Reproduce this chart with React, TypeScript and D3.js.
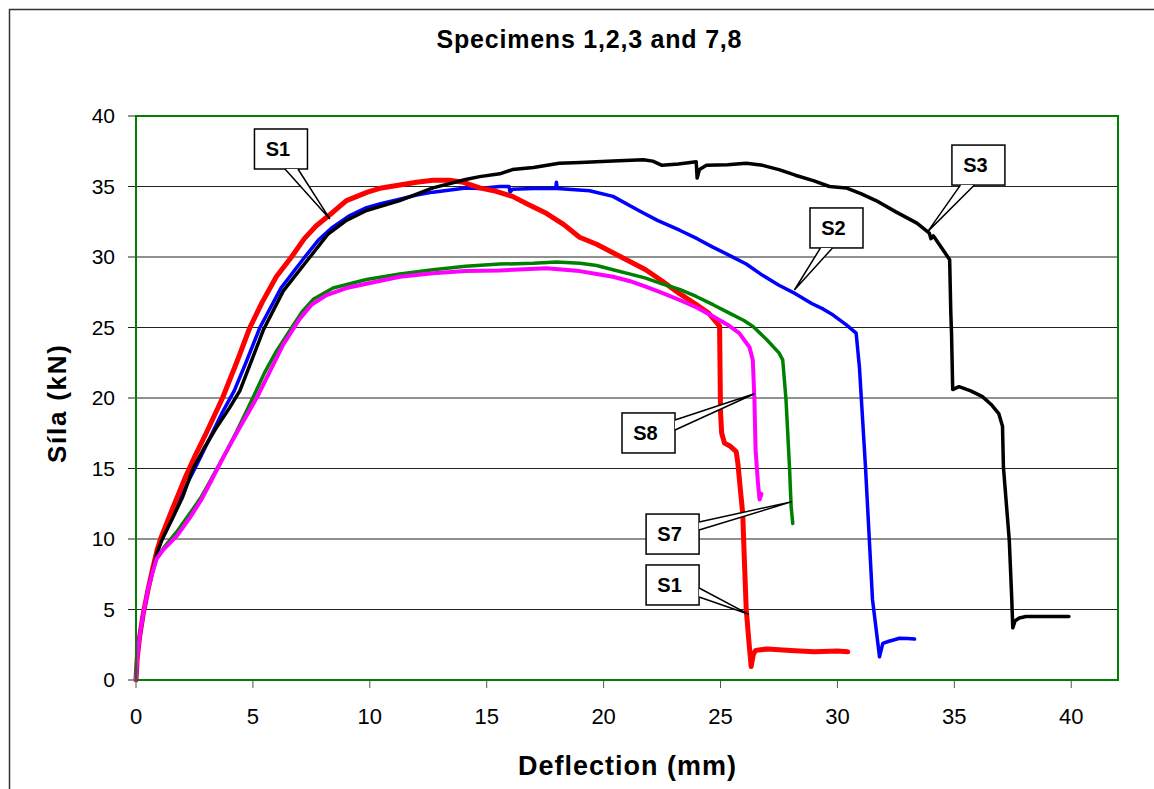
import * as d3 from 'd3'

type Pt = [number, number]

const TITLE = 'Specimens 1,2,3 and 7,8'
const X_LABEL = 'Deflection (mm)'
const Y_LABEL = 'Síla (kN)'
const X_TICKS = [0, 5, 10, 15, 20, 25, 30, 35, 40]
const Y_TICKS = [0, 5, 10, 15, 20, 25, 30, 35, 40]

// deflection (mm), force (kN)
const s1: Pt[] = [[0, 0], [0.05, 1.5], [0.15, 3], [0.3, 4.6], [0.5, 6.3], [0.7, 7.8], [0.9, 9.2], [1.05, 10], [1.5, 11.9], [2.09, 14.3], [2.5, 15.8], [3, 17.5], [3.7, 20], [4.3, 22.5], [4.87, 25], [5.4, 26.8], [6, 28.6], [6.65, 30], [7.2, 31.3], [7.7, 32.2], [8.29, 33.0], [9.0, 34], [9.9, 34.6], [10.5, 34.9], [11.28, 35.1], [12, 35.3], [12.7, 35.45], [13.4, 35.45], [14, 35.3], [14.7, 34.9], [15.3, 34.7], [16.1, 34.3], [16.8, 33.7], [17.55, 33.1], [18.3, 32.3], [18.97, 31.4], [19.7, 30.9], [20.4, 30.3], [21.1, 29.7], [21.8, 29.1], [22.5, 28.3], [23.25, 27.4], [23.9, 26.7], [24.5, 26.0], [24.96, 25.1], [24.98, 22], [25.0, 19], [25.05, 17.5], [25.17, 16.8], [25.4, 16.6], [25.67, 16.2], [25.74, 15.4], [25.85, 13.5], [25.95, 11.8], [26.02, 8.5], [26.1, 5.0], [26.2, 3], [26.31, 0.95], [26.4, 1.8], [26.5, 2.1], [27, 2.2], [28, 2.1], [29, 2.0], [30, 2.05], [30.44, 2.0]]

const s2: Pt[] = [[0, 0], [0.05, 1.5], [0.15, 3], [0.3, 4.6], [0.5, 6.3], [0.7, 7.8], [0.9, 9.1], [1.1, 10], [1.6, 11.8], [2.3, 14.3], [2.7, 15.6], [3.2, 17.3], [3.7, 19], [4.2, 20.5], [4.7, 22.5], [5.3, 25], [6.2, 27.8], [7.22, 30], [7.8, 31.2], [8.4, 32.1], [9.1, 32.9], [9.86, 33.5], [10.5, 33.8], [11.28, 34.1], [12, 34.4], [12.7, 34.6], [14.1, 34.9], [14.7, 34.85], [15.56, 35.0], [15.95, 35.0], [16.0, 34.6], [16.1, 34.8], [17.0, 34.85], [17.95, 34.85], [17.98, 35.3], [18.02, 34.85], [19.4, 34.7], [20.4, 34.3], [21.5, 33.3], [22.3, 32.6], [23.25, 31.9], [24.0, 31.3], [24.67, 30.7], [25.4, 30.1], [26.1, 29.5], [26.8, 28.7], [27.5, 28.0], [28.2, 27.4], [28.9, 26.7], [29.4, 26.3], [29.8, 25.9], [30.37, 25.2], [30.8, 24.6], [30.94, 22.2], [31.2, 15.1], [31.5, 5.7], [31.8, 1.65], [31.94, 2.6], [32.2, 2.75], [32.4, 2.84], [32.65, 2.96], [33.0, 2.95], [33.3, 2.9]]

const s3: Pt[] = [[0, 0], [0.05, 1.5], [0.15, 3], [0.3, 4.6], [0.5, 6.3], [0.7, 7.7], [0.9, 9.0], [1.1, 9.9], [1.6, 11.6], [2.0, 13.0], [2.44, 15], [2.9, 16.4], [3.4, 17.8], [4.0, 19.3], [4.44, 20.5], [5.0, 22.9], [5.44, 24.8], [6.3, 27.6], [7.44, 30], [8.2, 31.6], [9.0, 32.6], [9.86, 33.3], [11.28, 34.0], [12.7, 34.9], [14.1, 35.5], [14.7, 35.7], [15.56, 35.9], [16.1, 36.2], [17.0, 36.35], [18.1, 36.65], [19.0, 36.7], [20.4, 36.8], [21.7, 36.9], [22.1, 36.8], [22.5, 36.5], [23.2, 36.6], [23.96, 36.75], [24.0, 35.6], [24.1, 36.2], [24.4, 36.5], [25.3, 36.55], [26.1, 36.65], [26.8, 36.5], [27.5, 36.2], [28.2, 35.8], [29.0, 35.4], [29.66, 35.0], [30.37, 34.9], [31.0, 34.5], [31.65, 34.0], [32.5, 33.2], [33.4, 32.4], [33.93, 31.7], [34.0, 31.3], [34.1, 31.5], [34.6, 30.3], [34.8, 29.8], [34.85, 26], [34.88, 24.6], [34.93, 20.6], [35.2, 20.8], [35.7, 20.5], [36.2, 20.1], [36.6, 19.5], [36.9, 18.9], [37.06, 18.0], [37.1, 15.1], [37.35, 9.9], [37.45, 6], [37.5, 3.7], [37.6, 4.2], [37.78, 4.4], [38.06, 4.5], [39.0, 4.5], [39.9, 4.5]]

const s7: Pt[] = [[0, 0], [0.05, 1.5], [0.15, 3], [0.3, 4.6], [0.5, 6.3], [0.7, 7.6], [0.88, 8.6], [1.2, 9.4], [1.74, 10.5], [2.3, 11.8], [2.8, 13], [3.3, 14.5], [3.8, 16], [4.3, 17.6], [4.94, 19.8], [5.5, 21.8], [6.0, 23.3], [6.58, 24.8], [7.1, 26.1], [7.58, 27.0], [8.43, 27.8], [9.86, 28.4], [11.28, 28.8], [12.7, 29.1], [14.1, 29.35], [15.56, 29.5], [17.0, 29.55], [17.98, 29.65], [19.0, 29.55], [19.7, 29.4], [20.4, 29.1], [21.1, 28.8], [21.8, 28.5], [22.5, 28.1], [23.25, 27.7], [23.96, 27.2], [24.7, 26.6], [25.4, 26.0], [26.0, 25.5], [26.4, 25.06], [27.0, 24.1], [27.5, 23.2], [27.66, 22.7], [27.8, 19.9], [27.95, 15.1], [28.02, 12.3], [28.09, 11.1]]

const s8: Pt[] = [[0, 0], [0.05, 1.5], [0.15, 3], [0.3, 4.6], [0.5, 6.3], [0.7, 7.6], [0.88, 8.6], [1.2, 9.3], [1.74, 10.2], [2.3, 11.5], [2.8, 12.8], [3.3, 14.4], [3.8, 16], [4.4, 17.8], [5.16, 20], [5.7, 21.8], [6.3, 23.8], [7.0, 25.6], [7.5, 26.6], [8.15, 27.3], [9.0, 27.8], [9.86, 28.1], [11.28, 28.6], [12.7, 28.85], [14.1, 29.0], [15.56, 29.05], [17.55, 29.2], [18.97, 29.0], [19.7, 28.8], [20.4, 28.6], [21.1, 28.3], [21.8, 27.9], [22.5, 27.45], [23.25, 26.95], [24.0, 26.4], [24.67, 25.8], [25.3, 25.2], [25.8, 24.6], [26.24, 23.6], [26.38, 22.7], [26.45, 19.9], [26.5, 16.3], [26.6, 14], [26.67, 12.8], [26.75, 13.2]]

const series = [
  { name: 'S2', pts: s2, color: '#0000ff', w: 3.5 },
  { name: 'S1', pts: s1, color: '#ff0000', w: 5 },
  { name: 'S3', pts: s3, color: '#000000', w: 3.5 },
  { name: 'S7', pts: s7, color: '#008000', w: 3.5 },
  { name: 'S8', pts: s8, color: '#ff00ff', w: 4 },
]

// callouts: label, box centre (data), tip (data), side the pointer leaves from, pointer base offsets (px)
const callouts = [
  { label: 'S1', box: [6.2, 37.66], tip: [8.29, 32.7], side: 'bottom', base: [4, 17] },
  { label: 'S2', box: [29.96, 32.06], tip: [28.16, 27.66], side: 'bottom', base: [-16, -4] },
  { label: 'S3', box: [36.03, 36.52], tip: [33.86, 31.8], side: 'bottom', base: [-18, -4] },
  { label: 'S8', box: [21.92, 17.52], tip: [26.45, 20.3], side: 'right', base: [-13, -3] },
  { label: 'S7', box: [22.95, 10.35], tip: [28.06, 12.65], side: 'right', base: [-12, -4] },
  { label: 'S1', box: [22.95, 6.74], tip: [26.21, 4.66], side: 'right', base: [3, 12] },
]

const W = 1154
const H = 789
const FONT = '"Liberation Sans", Arial, sans-serif'

export default function App() {
  const left = 136, top = 116, right = 1118, bottom = 680
  const x = d3.scaleLinear().domain([0, 42]).range([left, right])
  const y = d3.scaleLinear().domain([0, 40]).range([bottom, top])
  const line = d3.line<Pt>().x(d => x(d[0])).y(d => y(d[1]))
  const bw = 53, bh = 40

  return (
    <svg width={W} height={H} style={{ position: 'absolute', left: 0, top: 0, background: '#fff' }} fontFamily={FONT}>
      <rect x={0} y={0} width={W} height={H} fill="#fff" />
      {/* outer chart frame */}
      <path d={`M9.5,${H} V9.5 H${W}`} fill="none" stroke="#333" strokeWidth={1.5} />

      <text x={589} y={48} textAnchor="middle" fontSize={25} fontWeight="bold" textLength={305} lengthAdjust="spacing">{TITLE}</text>

      {/* gridlines */}
      {Y_TICKS.filter(t => t > 0 && t < 40).map(t => (
        <line key={t} x1={left} x2={right} y1={y(t)} y2={y(t)} stroke="#222" strokeWidth={1} />
      ))}

      {/* y axis ticks + labels */}
      {Y_TICKS.map(t => (
        <g key={t}>
          <line x1={left - 8} x2={left} y1={y(t)} y2={y(t)} stroke="#222" strokeWidth={1} />
          <text x={115} y={y(t) + 7} textAnchor="end" fontSize={21}>{t}</text>
        </g>
      ))}
      {X_TICKS.map(t => (
        <g key={t}>
          <line x1={x(t)} x2={x(t)} y1={bottom} y2={bottom + 8} stroke="#555" strokeWidth={1} />
          <text x={x(t)} y={724} textAnchor="middle" fontSize={22}>{t}</text>
        </g>
      ))}

      {series.map(s => (
        <path key={s.name} d={line(s.pts) ?? ''} fill="none" stroke={s.color} strokeWidth={s.w}
          strokeLinejoin="round" strokeLinecap="round" />
      ))}

      {/* plot frame */}
      <rect x={left} y={top} width={right - left} height={bottom - top} fill="none" stroke="#008000" strokeWidth={2} />

      {callouts.map((c, i) => {
        const cx = x(c.box[0]), cy = y(c.box[1])
        const tx = x(c.tip[0]), ty = y(c.tip[1])
        let p1: Pt, p2: Pt
        if (c.side === 'bottom') {
          p1 = [cx + c.base[0], cy + bh / 2]
          p2 = [cx + c.base[1], cy + bh / 2]
        } else {
          p1 = [cx + bw / 2, cy + c.base[0]]
          p2 = [cx + bw / 2, cy + c.base[1]]
        }
        return (
          <g key={i}>
            <rect x={cx - bw / 2} y={cy - bh / 2} width={bw} height={bh} fill="#fff" stroke="#000" strokeWidth={1.5} />
            <polygon points={`${p1[0]},${p1[1]} ${tx},${ty} ${p2[0]},${p2[1]}`} fill="#fff" stroke="none" />
            <path d={`M${p1[0]},${p1[1]} L${tx},${ty} L${p2[0]},${p2[1]}`} fill="none" stroke="#000" strokeWidth={1.5} />
            <text x={cx - 3} y={cy + 7} textAnchor="middle" fontSize={20} fontWeight="bold">{c.label}</text>
          </g>
        )
      })}

      <text transform="translate(66,404) rotate(-90)" textAnchor="middle" fontSize={26} fontWeight="bold" textLength={118} lengthAdjust="spacing">{Y_LABEL}</text>
      <text x={627} y={775} textAnchor="middle" fontSize={27} fontWeight="bold" textLength={218} lengthAdjust="spacing">{X_LABEL}</text>
    </svg>
  )
}
